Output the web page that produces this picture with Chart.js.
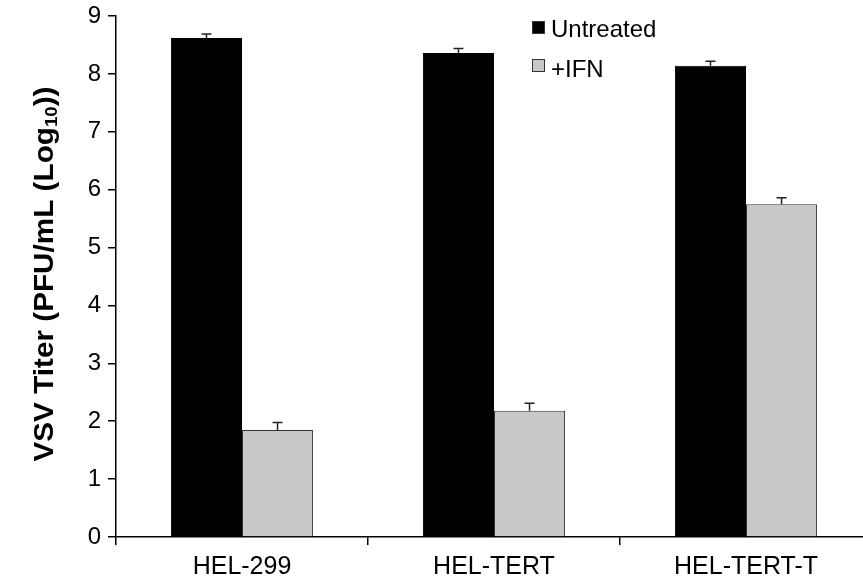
<!DOCTYPE html>
<html>
<head>
<meta charset="utf-8">
<script src="https://cdn.jsdelivr.net/npm/chart.js@4.4.1/dist/chart.umd.min.js"></script>
<style>
  html, body { margin: 0; padding: 0; background: #fff; overflow: hidden; width: 863px; height: 582px; }
  #wrap { position: absolute; left: 0; top: 0; width: 880px; height: 582px; }
</style>
</head>
<body>
<div id="wrap"><canvas id="c" width="880" height="582"></canvas></div>
<script>
const categories = ["HEL-299", "HEL-TERT", "HEL-TERT-T"];
const seriesNames = ["Untreated", "+IFN"];
const untreated = [8.62, 8.36, 8.14];
const untreatedErr = [0.07, 0.08, 0.08];
const ifn = [1.85, 2.18, 5.75];
const ifnErr = [0.13, 0.13, 0.11];
const yTicks = [0, 1, 2, 3, 4, 5, 6, 7, 8, 9];
const yTitleMain = "VSV Titer (PFU/mL (Log";
const yTitleSub = "10";
const yTitleEnd = "))";

const FONT = "'Liberation Sans', Arial, sans-serif";

const errorBars = {
  id: 'errorBars',
  afterDatasetsDraw(chart) {
    const ctx = chart.ctx;
    const y = chart.scales.y;
    chart.data.datasets.forEach((ds, di) => {
      const meta = chart.getDatasetMeta(di);
      meta.data.forEach((bar, i) => {
        const v = ds.data[i], e = ds.errors[i];
        const yTop = y.getPixelForValue(v + e);
        const yBar = y.getPixelForValue(v);
        ctx.save();
        ctx.strokeStyle = '#222';
        ctx.lineWidth = 1.5;
        ctx.beginPath();
        ctx.moveTo(bar.x, yBar);
        ctx.lineTo(bar.x, yTop);
        ctx.moveTo(bar.x - 5, yTop);
        ctx.lineTo(bar.x + 5, yTop);
        ctx.stroke();
        ctx.restore();
      });
    });
  }
};

const extras = {
  id: 'extras',
  afterDraw(chart) {
    const ctx = chart.ctx;
    // Y title with subscript
    ctx.save();
    ctx.translate(46, 274);
    ctx.rotate(-Math.PI / 2);
    ctx.scale(1.1, 1);
    ctx.fillStyle = '#000';
    ctx.textBaseline = 'middle';
    const big = "bold 27px " + FONT, small = "bold 17px " + FONT;
    ctx.font = big; const w1 = ctx.measureText(yTitleMain).width;
    const w3 = ctx.measureText(yTitleEnd).width;
    ctx.font = small; const w2 = ctx.measureText(yTitleSub).width;
    const total = w1 + w2 + w3;
    let x = -total / 2;
    ctx.textAlign = 'left';
    ctx.font = big; ctx.fillText(yTitleMain, x, 0); x += w1;
    ctx.font = small; ctx.fillText(yTitleSub, x, 6); x += w2;
    ctx.font = big; ctx.fillText(yTitleEnd, x, 0);
    ctx.restore();

    // Legend
    ctx.save();
    chart.data.datasets.forEach((ds, i) => {
      const bx = 532, by = 21 + i * 38;
      ctx.fillStyle = ds.backgroundColor;
      ctx.fillRect(bx, by, 13, 13);
      ctx.strokeStyle = '#333';
      ctx.lineWidth = 1;
      ctx.strokeRect(bx + 0.5, by + 0.5, 12, 12);
      ctx.fillStyle = '#000';
      ctx.font = "24px " + FONT;
      ctx.textBaseline = 'alphabetic';
      ctx.textAlign = 'left';
      ctx.fillText(ds.label, 551, 37 + i * 40);
    });
    ctx.restore();
  }
};

new Chart(document.getElementById('c'), {
  type: 'bar',
  data: {
    labels: categories,
    datasets: [
      { label: seriesNames[0], data: untreated, errors: untreatedErr,
        backgroundColor: '#000000', borderColor: '#000000', borderWidth: 1,
        categoryPercentage: 0.564, barPercentage: 1.0 },
      { label: seriesNames[1], data: ifn, errors: ifnErr,
        backgroundColor: '#c8c8c8', borderColor: '#333333', borderWidth: 1,
        categoryPercentage: 0.564, barPercentage: 1.0 }
    ]
  },
  options: {
    responsive: false,
    animation: false,
    layout: { padding: { top: 16, right: 8, left: 0, bottom: 0 } },
    plugins: { legend: { display: false }, tooltip: { enabled: false } },
    scales: {
      x: {
        grid: { display: true, drawOnChartArea: false, drawTicks: true, tickLength: 8, color: '#000', lineWidth: 1.5, offset: true },
        border: { display: true, color: '#000', width: 1.5 },
        ticks: { color: '#000', font: { family: FONT, size: 25 }, padding: 7, maxRotation: 0 },
        afterFit(s) { s.height = 45; s.paddingLeft = 0; s.paddingRight = 0; }
      },
      y: {
        min: 0, max: 9,
        afterBuildTicks(s) { s.ticks = yTicks.map(v => ({ value: v })); },
        grid: { display: true, drawOnChartArea: false, drawTicks: true, tickLength: 8, color: '#000', lineWidth: 1.5 },
        border: { display: true, color: '#000', width: 1.5 },
        ticks: { color: '#000', font: { family: FONT, size: 24 }, padding: 7 },
        afterFit(s) { s.width = 116; s.paddingTop = 0; s.paddingBottom = 0; }
      }
    }
  },
  plugins: [errorBars, extras]
});
</script>
</body>
</html>
